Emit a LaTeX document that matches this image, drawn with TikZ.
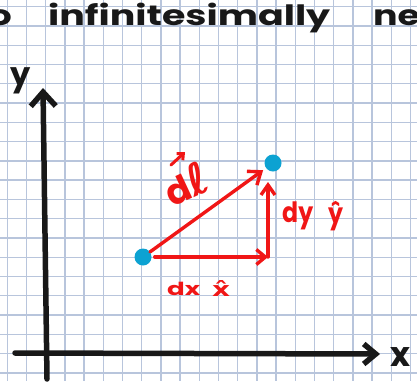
\documentclass[tikz,border=0pt]{standalone}
\usepackage{fontspec}
\setmainfont{Poppins}
\newfontfamily\dvs{DejaVu Sans}
\usetikzlibrary{arrows.meta}
\definecolor{gridc}{RGB}{184,197,220}
\definecolor{penred}{RGB}{240,22,22}
\definecolor{dotblue}{RGB}{12,162,210}
\definecolor{ink}{RGB}{24,24,24}
\newcommand{\fitw}[2]{\resizebox{#1}{\height}{#2}}
\begin{document}
\begin{tikzpicture}[x=1pt,y=-1pt,
  gridline/.style={draw=gridc,line width=1.4pt},
  axis/.style={draw=ink,line width=5.5pt,line cap=round,line join=round},
  redvec/.style={draw=penred,line width=3.4pt,line cap=round,line join=round},
  dot/.style={circle,fill=dotblue,minimum size=17pt,inner sep=0pt},
  inktext/.style={text=ink,inner sep=0pt},
  redtext/.style={text=penred,inner sep=0pt},
]
\useasboundingbox (0,0) rectangle (417,381);
\fill[white] (0,0) rectangle (417,381);
\clip (0,0) rectangle (417,381);
% graph paper
\foreach \i in {0,...,21} \draw[gridline] ({7.3+19.2*\i},0) -- ++(0,381);
\foreach \j in {0,...,19} \draw[gridline] (0,{6.7+19.27*\j}) -- ++(417,0);
% title
\node[inktext,anchor=base east,font=\fontsize{28}{28}\selectfont\bfseries] (t1) at (12,25) {\scalebox{1.3}[1]{o}};
\node[inktext,anchor=base west,font=\fontsize{28}{28}\selectfont\bfseries] (t2) at (48,25) {\fitw{282pt}{infinitesimally}};
\node[inktext,anchor=base west,font=\fontsize{28}{28}\selectfont\bfseries] (t3) at (373,25) {\scalebox{1.3}[1]{ne}};
% axes
\coordinate (ytop) at (43,88);
\coordinate (ybot) at (47,379);
\coordinate (xl) at (15,353);
\coordinate (xr) at (380,354);
\draw[axis,-{Straight Barb[length=14pt,width=25pt]}] (ybot) -- (ytop);
\draw[axis,-{Straight Barb[length=12pt,width=20pt]}] (xl) -- (xr);
\node[inktext,font=\fontsize{32}{32}\selectfont\bfseries] (ylab) at (21,81) {y};
\node[inktext,font=\fontsize{34}{34}\selectfont\bfseries] (xlab) at (400,357) {x};
% points
\node[dot] (A) at (143,257) {};
\node[dot] (B) at (273,163) {};
\coordinate (C) at (268,257);
\coordinate (Ctop) at (268,182);
% vectors
\draw[redvec,-{Straight Barb[length=11pt,width=17pt]},shorten >=3.5pt] (A) -- (B);
\draw[redvec,-{Straight Barb[length=9pt,width=15pt]},shorten <=3pt] (A) -- (C);
\draw[redvec,-{Straight Barb[length=10pt,width=14pt]}] (C) -- (Ctop);
% labels
\node[redtext,rotate=25,font=\fontsize{36}{36}\selectfont\bfseries] (dl) at (186,184) {d{\dvs\bfseries\scalebox{1.2}{ℓ}}};
\coordinate (va) at (171,165);
\coordinate (vb) at (185,152);
\draw[redvec,line width=3pt,-{Straight Barb[length=5pt,width=9pt]}] (va) -- (vb);
\node[redtext,anchor=base west,font=\fontsize{28}{28}\selectfont\bfseries] (dy) at (282,222) {\fitw{31pt}{dy}};
\node[redtext,anchor=base west,font=\fontsize{28}{28}\selectfont\bfseries] (yhat) at (328,223) {\fitw{15pt}{ŷ}};
\node[redtext,anchor=base west,font=\fontsize{18}{18}\selectfont\bfseries] (dx) at (167,295) {\fitw{33pt}{dx}};
\node[redtext,anchor=base west,font=\fontsize{20}{20}\selectfont\dvs\bfseries] (xhat) at (212,296) {\fitw{18pt}{x̂}};
\end{tikzpicture}
\end{document}
